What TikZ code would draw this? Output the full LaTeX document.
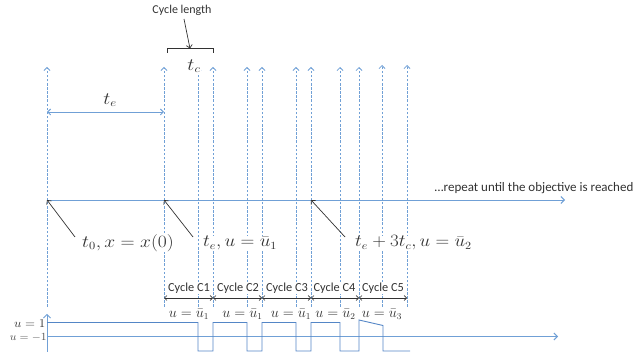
\documentclass[tikz,border=0pt]{standalone}
\usepackage{fontspec}
\usepackage{graphicx}
\setsansfont{Carlito}
\usetikzlibrary{arrows.meta}
\definecolor{lb}{RGB}{112,160,214}
\definecolor{sig}{RGB}{84,134,198}
\definecolor{ink}{RGB}{50,50,50}
\newcommand{\wide}[2]{\scalebox{#1}[1]{#2}}
\tikzset{
  vdash/.style={draw=lb, line width=0.8pt, dash pattern=on 2.5pt off 1.6pt, -{Straight Barb[length=3pt,width=6pt]}},
  axisline/.style={draw=lb, line width=0.9pt, -{Straight Barb[length=3.5pt,width=7pt]}},
  pointer/.style={draw=ink, line width=0.7pt, -{Straight Barb[length=3pt,width=6pt]}},
  cyc/.style={draw=ink, line width=0.6pt, {Straight Barb[length=2.5pt,width=5pt]}-{Straight Barb[length=2.5pt,width=5pt]}},
  sans/.style={font=\sffamily\fontsize{12}{14}\selectfont, text=ink, inner sep=0.5pt},
  cyclbl/.style={sans, font=\sffamily\fontsize{12.3}{14}\selectfont, fill=white},
  biglbl/.style={font=\fontsize{16}{19}\selectfont, text=ink, inner sep=0pt, anchor=west, fill=white},
  ulbl/.style={font=\fontsize{13.3}{15}\selectfont, text=ink, inner sep=0.3pt, fill=white},
  sigline/.style={draw=sig, line width=0.9pt}
}
\begin{document}
\begin{tikzpicture}[x=1pt,y=-1pt]
\useasboundingbox (0,0) rectangle (637,352);
% vertical dashed time lines
\foreach \i/\x/\top in {1/47/67,2/164/67,3/198/67,4/213/67,5/247/67,6/262/67,7/296/67,8/311/67,9/340/67,10/359/67,11/382/65,12/407/65}{
  \coordinate (vb\i) at (\x,307);
  \coordinate (vt\i) at (\x,\top);
  \draw[vdash] (vb\i) -- (vt\i);
}
% main time axis
\coordinate (ax0) at (47,200);
\coordinate (axE) at (565,200);
\draw[axisline] (ax0) -- (axE);
\node[sans, font=\sffamily\fontsize{13}{16}\selectfont, anchor=west] (rep) at (434,188.5) {…repeat until the objective is reached};
% t_e span
\coordinate (te0) at (47,112);
\coordinate (te1) at (164,112);
\draw[draw=lb, line width=0.9pt, {Straight Barb[length=3pt,width=6pt]}-{Straight Barb[length=3pt,width=6pt]}] (te0) -- (te1);
\node[font=\fontsize{16}{19}\selectfont, text=ink] (telbl) at (110,100) {\wide{1.15}{$t_e$}};
% cycle length brace
\node[sans] (cl) at (182,10) {Cycle length};
\coordinate (br1) at (167,53);
\coordinate (br2) at (167,48.5);
\coordinate (brm) at (190,48.5);
\coordinate (br3) at (213,48.5);
\coordinate (br4) at (213,53);
\draw[draw=ink, line width=0.7pt] (br1) -- (br2) -- (br3) -- (br4);
\coordinate (clt) at (184,19);
\draw[pointer] (clt) -- (brm);
\node[font=\fontsize{16}{19}\selectfont, text=ink, fill=white, inner sep=0.5pt] (tc) at (194,66) {\wide{1.15}{$t_c$}};
% event labels
\coordinate (p0) at (47,200);
\coordinate (p1) at (164,200);
\coordinate (p2) at (311,200);
\coordinate (q0) at (75,237);
\coordinate (q1) at (193,237);
\coordinate (q2) at (345,237);
\draw[pointer] (q0) -- (p0);
\draw[pointer] (q1) -- (p1);
\draw[pointer] (q2) -- (p2);
\node[biglbl] (l0) at (82,243) {\wide{1.13}{$t_0, x = x(0)$}};
\node[biglbl] (l1) at (203,243) {\wide{1.11}{$t_e, u = \bar{u}_1$}};
\node[biglbl] (l2) at (355,243) {\wide{1.1}{$t_e + 3t_c, u = \bar{u}_2$}};
% cycles
\foreach \i/\a/\b/\lab/\u/\cx/\ux in {1/164/213/C1/1/189/189,2/213/262/C2/1/238/242.5,3/262/311/C3/1/287/291,4/311/359/C4/2/334.5/335.5,5/359/407/C5/3/383/382}{
  \coordinate (ca\i) at (\a,298);
  \coordinate (cb\i) at (\b,298);
  \draw[cyc] (ca\i) -- (cb\i);
  \node[cyclbl] (cl\i) at (\cx,288) {Cycle \lab};
  \node[ulbl] (ul\i) at (\ux,314.5) {$u = \bar{u}_{\u}$};
}
% lower signal plot
\coordinate (ya0) at (47,352);
\coordinate (ya1) at (47,314);
\draw[axisline, line width=0.8pt] (ya0) -- (ya1);
\coordinate (xa0) at (47,336.5);
\coordinate (xa1) at (558,336.5);
\draw[axisline] (xa0) -- (xa1);
\node[font=\fontsize{13}{15}\selectfont, text=ink, anchor=east, inner sep=0pt] (uone) at (45.5,324) {\wide{1.1}{$u = 1$}};
\node[font=\fontsize{10.5}{12}\selectfont, text=ink!85, anchor=east, inner sep=0pt] (umone) at (47,337) {\wide{1.06}{$u = -1$}};
\draw[sigline] (47,322.5) -- (198,322.5) -- (198,351) -- (213,351) -- (213,322.5) -- (247,322.5) -- (247,351) -- (262,351) -- (262,322.5) -- (296,322.5) -- (296,351) -- (311,351) -- (311,322.5) -- (340,322.5) -- (340,351) -- (359,351) -- (359,320) -- (383,325.5) -- (383,351) -- (410,351);
\end{tikzpicture}
\end{document}
